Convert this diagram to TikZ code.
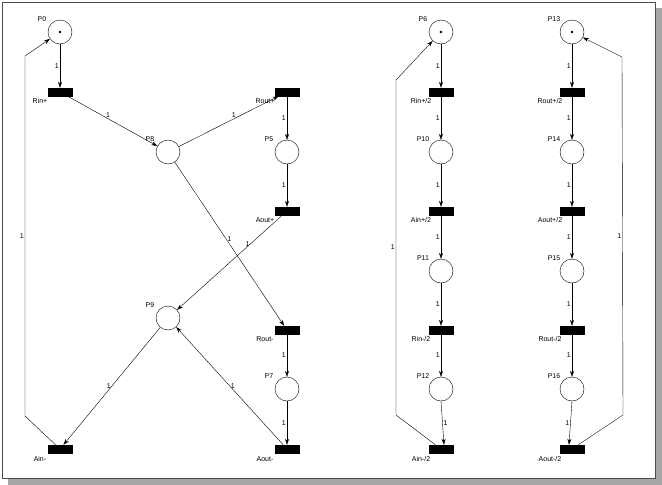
\documentclass[tikz,border=0pt]{standalone}
\usepackage{fontspec}
\setmainfont{Liberation Sans}
\usepackage{tikz}
\usetikzlibrary{arrows.meta,positioning}
\tikzset{
  place/.style={draw,circle,minimum size=24pt,inner sep=0pt,thin},
  trans/.style={draw,fill=black,minimum width=24pt,minimum height=8pt,inner sep=0pt},
  arc/.style={draw,thin,-{Stealth[length=6pt,width=4pt]}},
  lab/.style={font=\fontsize{7pt}{7pt}\selectfont,inner sep=1pt},
  token/.style={fill=black,circle,inner sep=1pt}
}
\begin{document}
\begin{tikzpicture}[x=1pt,y=-1pt]
      \useasboundingbox (0,0) rectangle (662,485);
      \fill[gray!70] (8,478) rectangle (662,485);
      \fill[gray!70] (655,8) rectangle (662,485);
      \draw[gray!60!black] (2,2) rectangle (655,478);
      % left net
      \node[place] (p0) at (60,32) {};
      \node[token] at (p0) {};
      \node[trans] (rinp) at (60,92) {};
      \node[place] (p8) at (168,152) {};
      \node[trans] (routp) at (287,92) {};
      \node[place] (p5) at (287,152) {};
      \node[trans] (aoutp) at (287,211) {};
      \node[place] (p9) at (168,318) {};
      \node[trans] (routm) at (287,330) {};
      \node[place] (p7) at (287,389) {};
      \node[trans] (ainm) at (60,449) {};
      \node[trans] (aoutm) at (287,449) {};
      \node[lab] at (42,19) {P0};
      \node[lab] at (150,139) {P8};
      \node[lab] at (269,139) {P5};
      \node[lab] at (150,305) {P9};
      \node[lab] at (269,376) {P7};
      \node[lab] at (40,101) {Rin+};
      \node[lab] at (265,101) {Rout+};
      \node[lab] at (265,220) {Aout+};
      \node[lab] at (265,339) {Rout-};
      \node[lab] at (40,459) {Ain-};
      \node[lab] at (265,459) {Aout-};
      \coordinate (c1) at (25,416);
      \coordinate (c2) at (25,56);
      \path[arc] (p0) -- node[lab,left] {1} (rinp);
      \path[arc] (rinp) -- node[lab,above,pos=.45] {1} (p8);
      \path[arc] (p8) -- node[lab,above,pos=.55] {1} (routp);
      \path[arc] (routp) -- node[lab,left] {1} (p5);
      \path[arc] (p5) -- node[lab,left] {1} (aoutp);
      \path[arc] (p8) -- node[lab,right,pos=.47] {1} (routm);
      \path[arc] (aoutp) -- node[lab,left,pos=.3] {1} (p9);
      \path[arc] (routm) -- node[lab,left] {1} (p7);
      \path[arc] (p7.south) -- node[lab,left] {1} (aoutm.north);
      \path[arc] (p9) -- node[lab,left] {1} (ainm);
      \path[arc] (aoutm) -- node[lab,right] {1} (p9);
      \path[arc] (ainm) -- (c1) -- node[lab,left] {1} (c2) -- (p0);
      % middle net
      \node[place] (p6) at (441,32) {};
      \node[token] at (p6) {};
      \node[trans] (rinp2) at (441,92) {};
      \node[place] (p10) at (441,152) {};
      \node[trans] (ainp2) at (441,211) {};
      \node[place] (p11) at (441,271) {};
      \node[trans] (rinm2) at (441,330) {};
      \node[place] (p12) at (441,389) {};
      \node[trans] (ainm2) at (441,449) {};
      \node[lab] at (423,19) {P6};
      \node[lab] at (421,101) {Rin+/2};
      \node[lab] at (423,139) {P10};
      \node[lab] at (421,220) {Ain+/2};
      \node[lab] at (423,258) {P11};
      \node[lab] at (421,339) {Rin-/2};
      \node[lab] at (423,376) {P12};
      \node[lab] at (421,459) {Ain-/2};
      \foreach \a/\b in {p6/rinp2,rinp2/p10,p10/ainp2,ainp2/p11,p11/rinm2,rinm2/p12}
        \path[arc] (\a) -- node[lab,left] {1} (\b);
      \path[arc] (p12.south) -- node[lab,right] {1} ([xshift=3pt]ainm2.north);
      \coordinate (c3) at (396,415);
      \coordinate (c4) at (396,80);
      \path[arc] (ainm2) -- (c3) -- node[lab,left] {1} (c4) -- (p6);
      % right net
      \node[place] (p13) at (572,32) {};
      \node[token] at (p13) {};
      \node[trans] (routp2) at (572,92) {};
      \node[place] (p14) at (572,152) {};
      \node[trans] (aoutp2) at (572,211) {};
      \node[place] (p15) at (572,271) {};
      \node[trans] (routm2) at (572,330) {};
      \node[place] (p16) at (572,389) {};
      \node[trans] (aoutm2) at (572,449) {};
      \node[lab] at (554,19) {P13};
      \node[lab] at (550,101) {Rout+/2};
      \node[lab] at (554,139) {P14};
      \node[lab] at (550,220) {Aout+/2};
      \node[lab] at (554,258) {P15};
      \node[lab] at (550,339) {Rout-/2};
      \node[lab] at (554,376) {P16};
      \node[lab] at (550,459) {Aout-/2};
      \foreach \a/\b in {p13/routp2,routp2/p14,p14/aoutp2,aoutp2/p15,p15/routm2,routm2/p16}
        \path[arc] (\a) -- node[lab,left] {1} (\b);
      \path[arc] (p16.south) -- node[lab,left] {1} ([xshift=-3pt]aoutm2.north);
      \coordinate (c5) at (623,415);
      \coordinate (c6) at (622,57);
      \path[arc] (aoutm2) -- (c5) -- node[lab,left] {1} (c6) -- (p13);
    \end{tikzpicture}
\end{document}
